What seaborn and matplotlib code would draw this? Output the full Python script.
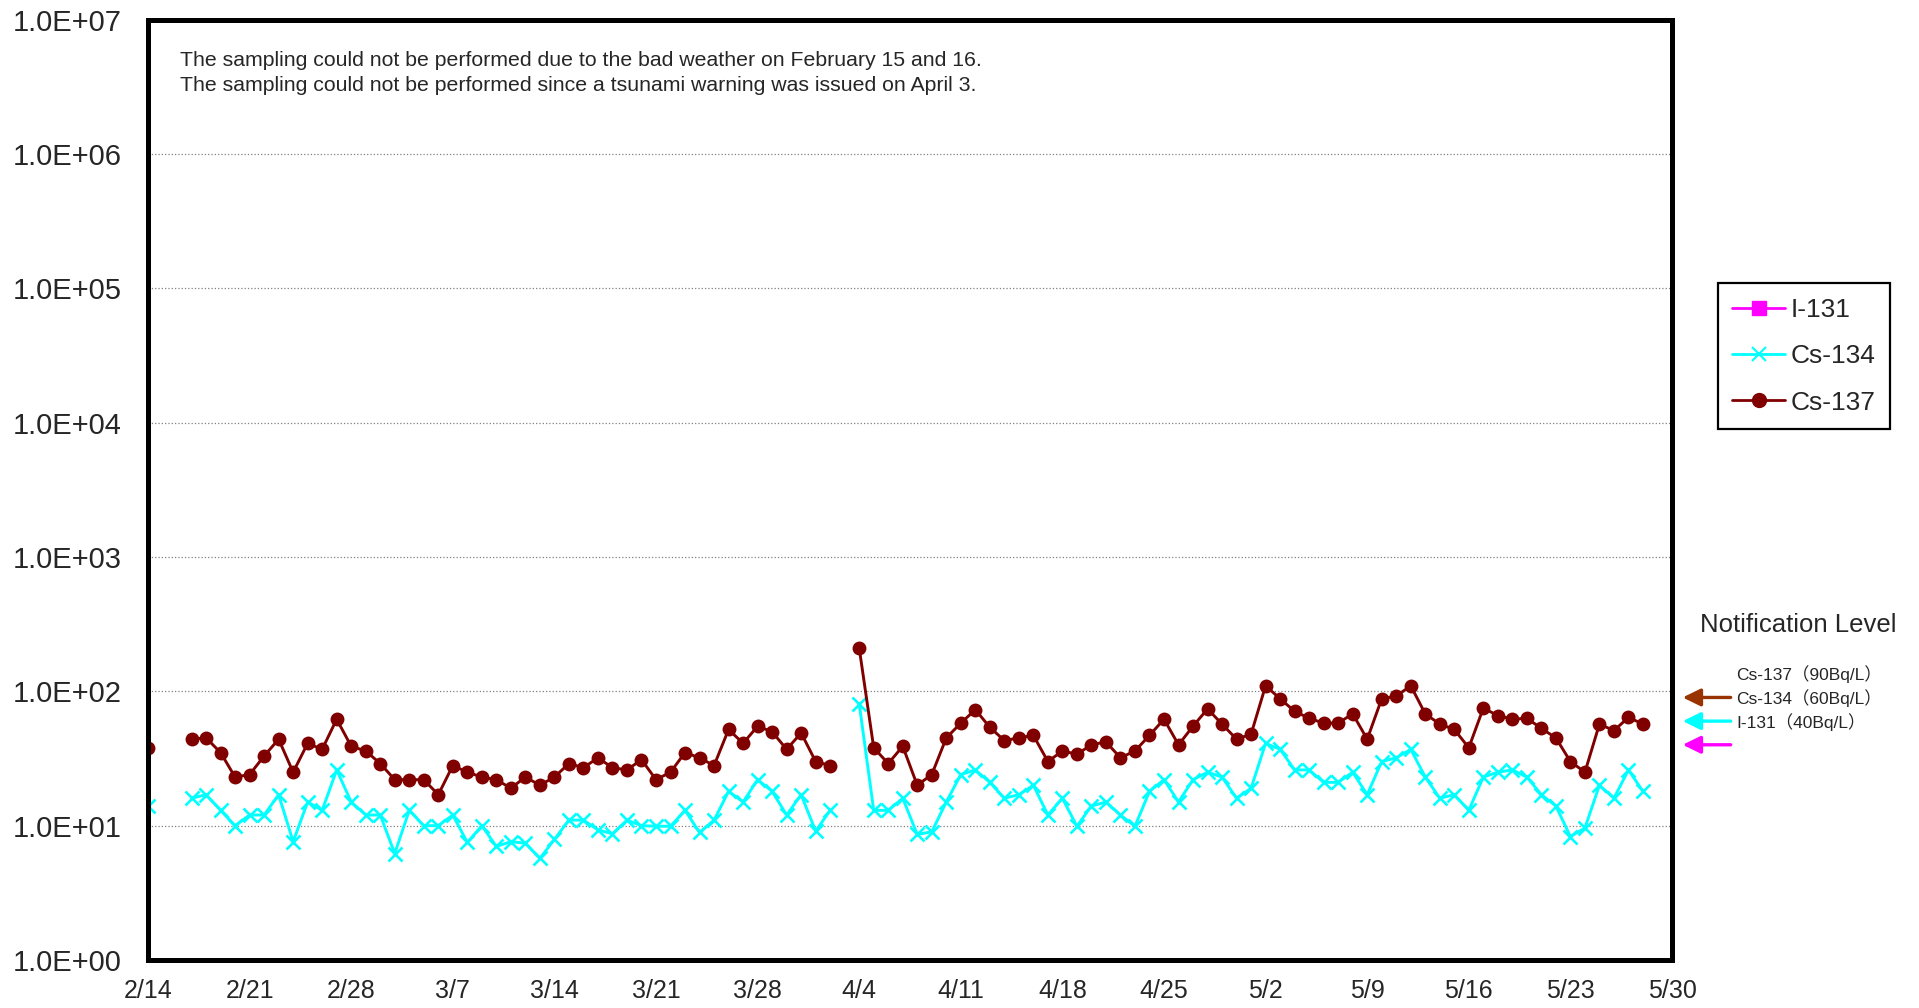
import matplotlib
matplotlib.use("Agg")
import matplotlib.pyplot as plt
from matplotlib.lines import Line2D
from matplotlib.ticker import FuncFormatter, NullLocator
import numpy as np
import pandas as pd
import seaborn as sns

# Sampling period (daily), days with no sampling
first_day = "2014-02-14"
last_day = "2014-05-28"
missed_days = ["2014-02-15", "2014-02-16", "2014-04-03"]

# Bq/L, one value per sampled day
cs134 = [14,
         16, 17, 13, 10, 12, 12, 17, 7.6, 15, 13, 26, 15, 12, 12, 6.2, 13, 10, 10, 12,
         7.5, 10, 7.0, 7.6, 7.4, 5.7, 7.9, 11, 11, 9.3, 8.7, 11, 10, 9.9, 9.9, 13,
         8.9, 11, 18, 15, 22, 18, 12, 17, 9.1, 13,
         81, 13, 13, 16, 8.6, 9.0, 15, 24, 26, 21, 16, 17, 20, 12, 16, 9.9, 14, 15,
         12, 9.9, 18, 22, 15, 22, 25, 23, 16, 19, 41, 37, 26, 26, 21, 21, 25, 17,
         30, 32, 37, 23, 16, 17, 13, 23, 25, 26, 23, 17, 14, 8.3, 9.6, 20, 16, 26, 18]
cs137 = [38,
         44, 45, 35, 23, 24, 33, 44, 25, 41, 37, 62, 39, 36, 29, 22, 22, 22, 17, 28,
         25, 23, 22, 19, 23, 20, 23, 29, 27, 32, 27, 26, 31, 22, 25, 35,
         32, 28, 52, 41, 55, 50, 37, 49, 30, 28,
         210, 38, 29, 39, 20, 24, 45, 58, 73, 54, 43, 45, 47, 30, 36, 34, 40, 42,
         32, 36, 47, 62, 40, 55, 74, 57, 44, 48, 110, 88, 71, 63, 58, 58, 68, 44,
         88, 92, 110, 68, 57, 52, 38, 75, 66, 62, 63, 53, 45, 30, 25, 57, 51, 64, 57]

# Notification levels (Bq/L)
levels = {"Cs-137": 90, "Cs-134": 60, "I-131": 40}
level_labels = ["Cs-137（90Bq/L）", "Cs-134（60Bq/L）", "I-131（40Bq/L）"]

tick_labels = ["2/14", "2/21", "2/28", "3/7", "3/14", "3/21", "3/28", "4/4",
               "4/11", "4/18", "4/25", "5/2", "5/9", "5/16", "5/23", "5/30"]

notes = ["The sampling could not be performed due to the bad weather on February 15 and 16.",
         "The sampling could not be performed since a tsunami warning was issued on April 3."]

colors = {"I-131": "#FF00FF", "Cs-134": "#00FFFF", "Cs-137": "#800000"}
arrow_colors = {"Cs-137": "#993300", "Cs-134": "#00FFFF", "I-131": "#FF00FF"}

# Build the table; a new segment starts after each missed day
all_days = pd.date_range(first_day, last_day, freq="D")
dates = all_days[~all_days.isin(pd.to_datetime(missed_days))]
df = pd.DataFrame({"date": dates, "Cs-134": cs134, "Cs-137": cs137})
df["seg"] = (df["date"].diff() > pd.Timedelta(days=1)).cumsum()

sns.set_style("white")
plt.rcParams["font.family"] = ["Liberation Sans", "Noto Sans CJK JP", "DejaVu Sans"]

fig, ax = plt.subplots(figsize=(19.19, 10.08), dpi=100)
fig.subplots_adjust(left=148 / 1919, right=1672 / 1919, bottom=1 - 960 / 1008, top=1 - 19.6 / 1008)

sns.lineplot(data=df, x="date", y="Cs-134", units="seg", estimator=None, ax=ax,
             color=colors["Cs-134"], linewidth=2.1, marker="x", markersize=10,
             markeredgewidth=1.9, markeredgecolor=colors["Cs-134"], legend=False)
sns.lineplot(data=df, x="date", y="Cs-137", units="seg", estimator=None, ax=ax,
             color=colors["Cs-137"], linewidth=2.1, marker="o", markersize=10,
             markeredgewidth=0, markeredgecolor=colors["Cs-137"], legend=False)

# Axes
ax.set_yscale("log")
ax.set_ylim(1, 1e7)
ax.set_yticks([10.0 ** k for k in range(8)])
ax.yaxis.set_major_formatter(FuncFormatter(lambda v, _: f"{v:.1E}"))
ax.yaxis.set_minor_locator(NullLocator())
tick_dates = pd.date_range("2014-02-14", "2014-05-30", freq="7D")
ax.set_xlim(tick_dates[0], tick_dates[-1])
ax.set_xticks(tick_dates)
ax.set_xticklabels(tick_labels)
ax.set_xlabel("")
ax.set_ylabel("")
ax.tick_params(axis="x", direction="in", length=4, width=1, color="#909090", pad=14, labelsize=18)
ax.tick_params(axis="y", length=0, pad=19, labelsize=21)
ax.yaxis.grid(True, linestyle=":", color="#808080", linewidth=0.9)
ax.xaxis.grid(False)
for s in ax.spines.values():
    s.set_visible(True)
    s.set_color("black")
    s.set_linewidth(3.6)

# Notes inside the plot
ax.text(0.021, 0.9565, notes[0], transform=ax.transAxes, fontsize=15.3, va="center")
ax.text(0.021, 0.9300, notes[1], transform=ax.transAxes, fontsize=15.3, va="center")

# Legend
handles = [
    Line2D([], [], color=colors["I-131"], lw=2, marker="s", markersize=10),
    Line2D([], [], color=colors["Cs-134"], lw=2, marker="x", markersize=10, markeredgewidth=1.5),
    Line2D([], [], color=colors["Cs-137"], lw=2, marker="o", markersize=10),
]
leg = ax.legend(handles, ["I-131", "Cs-134", "Cs-137"], loc="upper left",
                bbox_to_anchor=(1717.7 / 1919, 1 - 283.3 / 1008), bbox_transform=fig.transFigure,
                borderaxespad=0, fontsize=19, handlelength=2.0, handletextpad=0.2,
                labelspacing=0.85, borderpad=0.55, fancybox=False, frameon=True,
                edgecolor="black", framealpha=1)
leg.get_frame().set_linewidth(1.6)

# Notification levels
fig.text(1798 / 1919, 1 - 625 / 1008, "Notification Level", fontsize=18.5, ha="center", va="center")
trans = ax.get_yaxis_transform()
for name, label in zip(["Cs-137", "Cs-134", "I-131"], level_labels):
    v = levels[name]
    ax.annotate("", xy=(1.007, v), xytext=(1.0385, v), xycoords=trans, textcoords=trans,
                arrowprops=dict(arrowstyle="-|>,head_length=0.45,head_width=0.22",
                                color=arrow_colors[name], lw=2.4, mutation_scale=24,
                                shrinkA=0, shrinkB=0),
                annotation_clip=False)
    ax.annotate(label, xy=(1.042, v), xycoords=trans, xytext=(0, 16.6),
                textcoords="offset points", fontsize=12.5, va="center", ha="left",
                annotation_clip=False)

fig.savefig("out.png", dpi=100)
